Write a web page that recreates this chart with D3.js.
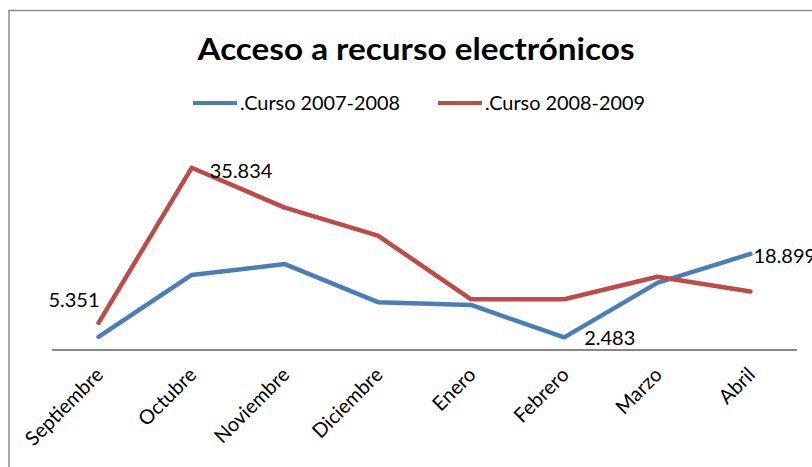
<!DOCTYPE html>
<html><head><meta charset="utf-8">
<script src="https://cdn.jsdelivr.net/npm/d3@7"></script>
<style>body{margin:0;background:#fff}svg{display:block}</style>
</head><body>
<svg id="c" width="812" height="467"></svg>
<script>
const months = ["Septiembre","Octubre","Noviembre","Diciembre","Enero","Febrero","Marzo","Abril"];
const curso0708 = [2.6, 14.75, 16.9, 9.4, 8.85, 2.483, 13.2, 18.899];
const curso0809 = [5.351, 35.834, 28.0, 22.5, 9.97, 9.97, 14.4, 11.5];
const seriesNames = [".Curso 2007-2008", ".Curso 2008-2009"];
const seriesColors = ["#4A7EBB", "#BE4B48"];
// data labels: [series index, month index, placement]
const dataLabels = [[1,0,"left"],[1,1,"right"],[0,5,"belowright"],[0,7,"right"]];

const svg = d3.select("#c");
const font = "Lato, 'Open Sans', sans-serif";
svg.append("rect").attr("x",9).attr("y",10.5).attr("width",900).attr("height",600)
  .attr("fill","#fff").attr("stroke","#8c8c8c").attr("stroke-width",1.5);

const x = d3.scaleBand().domain(months).range([52,797]);
const y = d3.scaleLinear().domain([0,40]).range([350,146.6]);
const cx = m => x(m) + x.bandwidth()/2;

svg.append("text").attr("x",416).attr("y",60).attr("text-anchor","middle")
  .attr("font-family",font).attr("font-weight","bold").attr("font-size",30)
  .attr("textLength",437).attr("lengthAdjust","spacingAndGlyphs")
  .attr("fill","#000").text("Acceso a  recurso electrónicos");

// legend
const lg = svg.append("g");
[[193,240],[438,485]].forEach((p,i)=>{
  lg.append("line").attr("x1",p[0]).attr("x2",p[0]+44).attr("y1",103).attr("y2",103)
    .attr("stroke",seriesColors[i]).attr("stroke-width",4);
  lg.append("text").attr("x",p[1]).attr("y",110).attr("font-family",font).attr("font-size",19)
    .attr("textLength",160).attr("lengthAdjust","spacingAndGlyphs")
    .attr("fill","#000").text(seriesNames[i]);
});

// baseline axis
svg.append("line").attr("x1",52).attr("x2",797).attr("y1",350).attr("y2",350)
  .attr("stroke","#868686").attr("stroke-width",2);

const xAxis = svg.append("g").attr("transform","translate(0,350)")
  .call(d3.axisBottom(x).tickSize(0).tickPadding(0));
xAxis.select(".domain").remove();
xAxis.selectAll("text").attr("font-family",font).attr("font-size",20).attr("fill","#000")
  .attr("text-anchor","end").attr("dy",0).attr("y",0)
  .attr("transform","translate(6,26) rotate(-45)");

const line = d3.line().x((d,i)=>cx(months[i])).y(d=>y(d));
[curso0708, curso0809].forEach((s,i)=>{
  svg.append("path").datum(s).attr("d",line).attr("fill","none")
    .attr("stroke",seriesColors[i]).attr("stroke-width",4.5)
    .attr("stroke-linejoin","round").attr("stroke-linecap","round");
});

const data = [curso0708, curso0809];
const fmt = v => v.toFixed(3);
dataLabels.forEach(([si,mi,pl])=>{
  const px = cx(months[mi]), py = y(data[si][mi]);
  let tx = px, ty = py, anchor = "start";
  if (pl==="left") { tx = px+1; ty = py-16; anchor = "end"; }
  if (pl==="right") { tx = px+18; ty = py+10; }
  if (pl==="belowright") { tx = px+20; ty = py+8; }
  if (pl==="right" && mi===7) { tx = px+3; ty = py+9; }
  svg.append("text").attr("x",tx).attr("y",ty).attr("text-anchor",anchor)
    .attr("font-family",font).attr("font-size",20).attr("fill","#000").text(fmt(data[si][mi]));
});
</script>
</body></html>
